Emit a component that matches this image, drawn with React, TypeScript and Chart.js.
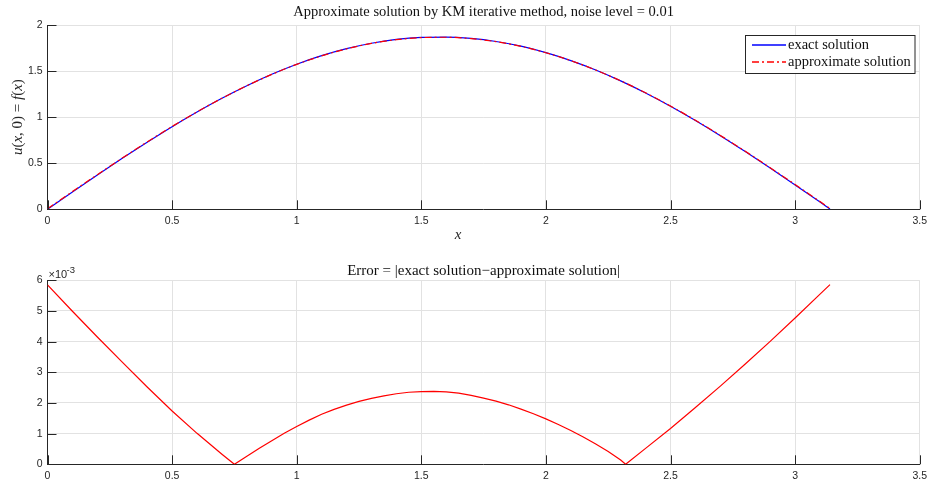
import React, { useEffect, useRef } from "react";
import { Chart, registerables } from "chart.js";

Chart.register(...registerables);

// ---------- data ----------
const xValues = [0, 0.1, 0.2, 0.3, 0.4, 0.5, 0.6, 0.7, 0.8, 0.9, 1.0, 1.1, 1.2, 1.3, 1.4, 1.5, 1.6, 1.7, 1.8, 1.9, 2.0, 2.1, 2.2, 2.3, 2.4, 2.5, 2.6, 2.7, 2.8, 2.9, 3.0, 3.1, 3.14];
const exactValues = [0, 0.187, 0.372, 0.553, 0.728, 0.897, 1.056, 1.205, 1.341, 1.465, 1.574, 1.667, 1.743, 1.802, 1.843, 1.865, 1.869, 1.854, 1.821, 1.770, 1.700, 1.614, 1.512, 1.394, 1.263, 1.119, 0.964, 0.799, 0.626, 0.447, 0.264, 0.078, 0.003];
const approxValues = [0.006, 0.192, 0.376, 0.556, 0.731, 0.899, 1.057, 1.205, 1.341, 1.464, 1.573, 1.665, 1.741, 1.800, 1.841, 1.863, 1.867, 1.852, 1.819, 1.768, 1.699, 1.613, 1.511, 1.394, 1.264, 1.120, 0.966, 0.802, 0.629, 0.451, 0.269, 0.084, 0.009];

const errorX = [0, 0.1, 0.2, 0.3, 0.4, 0.5, 0.6, 0.7, 0.75, 0.8, 0.85, 0.9, 0.95, 1.0, 1.05, 1.1, 1.15, 1.2, 1.25, 1.3, 1.35, 1.4, 1.45, 1.5, 1.55, 1.6, 1.65, 1.7, 1.75, 1.8, 1.85, 1.9, 1.95, 2.0, 2.05, 2.1, 2.15, 2.2, 2.25, 2.3, 2.32, 2.4, 2.5, 2.6, 2.7, 2.8, 2.9, 3.0, 3.1, 3.14];
// error values in units of 1e-3
const errorE3 = [5.85, 4.99, 4.15, 3.33, 2.52, 1.74, 1.01, 0.33, 0, 0.26, 0.52, 0.77, 1.01, 1.23, 1.44, 1.63, 1.79, 1.93, 2.05, 2.15, 2.23, 2.30, 2.35, 2.37, 2.375, 2.36, 2.32, 2.25, 2.16, 2.06, 1.94, 1.80, 1.65, 1.48, 1.30, 1.10, 0.89, 0.66, 0.42, 0.14, 0, 0.52, 1.17, 1.85, 2.55, 3.27, 4.01, 4.77, 5.55, 5.86];

const xTicksStep = 0.5;
const topTitle = "Approximate solution by KM iterative method, noise level = 0.01";
const bottomTitle = "Error = |exact solution\u2212approximate solution|";
const seriesNames = ["exact solution", "approximate solution"];

// ---------- style ----------
const AXIS = "#262626";
const GRID = "#e2e2e2";
const SERIF = "'Liberation Serif', 'Times New Roman', serif";
const SANS = "'Liberation Sans', Arial, sans-serif";
const TICK_FONT = { family: SANS, size: 10.5 };
const DASHDOT = [7, 3, 2, 3];
const TXT = 14.5;

type Part = [string, string];

function drawRich(ctx: CanvasRenderingContext2D, parts: Part[], cx: number, cy: number, rot = 0, color = "#000") {
  ctx.save();
  let total = 0;
  for (const [t, f] of parts) {
    ctx.font = f;
    total += ctx.measureText(t).width;
  }
  ctx.translate(cx, cy);
  ctx.rotate(rot);
  ctx.fillStyle = color;
  ctx.textBaseline = "middle";
  ctx.textAlign = "left";
  let x = -total / 2;
  for (const [t, f] of parts) {
    ctx.font = f;
    ctx.fillText(t, x, 0);
    x += ctx.measureText(t).width;
  }
  ctx.restore();
}

function drawLeft(ctx: CanvasRenderingContext2D, text: string, x: number, y: number, font: string) {
  ctx.save();
  ctx.font = font;
  ctx.fillStyle = "#111";
  ctx.textBaseline = "middle";
  ctx.textAlign = "left";
  ctx.fillText(text, x, y);
  ctx.restore();
}

function inwardTicks(chart: any) {
  const ctx = chart.ctx as CanvasRenderingContext2D;
  const { left, bottom } = chart.chartArea;
  const xs = chart.scales.x;
  const ys = chart.scales.y;
  ctx.save();
  ctx.strokeStyle = AXIS;
  ctx.lineWidth = 1;
  ctx.beginPath();
  for (const t of xs.ticks) {
    const px = Math.round(xs.getPixelForValue(t.value)) + 0.5;
    ctx.moveTo(px, bottom);
    ctx.lineTo(px, bottom - 9);
  }
  for (const t of ys.ticks) {
    const py = Math.round(ys.getPixelForValue(t.value)) + 0.5;
    ctx.moveTo(left, py);
    ctx.lineTo(left + 9, py);
  }
  ctx.stroke();
  ctx.restore();
}

const fmt = (v: any) => String(Math.round(Number(v) * 1000) / 1000);

function baseScales(yMin: number, yMax: number, yStep: number, xHeight: number) {
  return {
    x: {
      type: "linear",
      min: 0,
      max: 3.5,
      ticks: { stepSize: xTicksStep, color: AXIS, font: TICK_FONT, padding: 6, maxRotation: 0, autoSkip: false, callback: fmt },
      grid: { color: GRID, drawTicks: false, lineWidth: 1 },
      border: { color: AXIS, width: 1 },
      afterFit: (s: any) => { s.height = xHeight; },
    },
    y: {
      type: "linear",
      min: yMin,
      max: yMax,
      ticks: { stepSize: yStep, color: AXIS, font: TICK_FONT, padding: 5, callback: fmt },
      grid: { color: GRID, drawTicks: false, lineWidth: 1 },
      border: { color: AXIS, width: 1 },
      afterFit: (s: any) => { s.width = 47.5; },
    },
  };
}

const topDecor = {
  id: "topDecor",
  afterDraw(chart: any) {
    const ctx = chart.ctx as CanvasRenderingContext2D;
    const ca = chart.chartArea;
    inwardTicks(chart);
    const cx = (ca.left + ca.right) / 2;
    drawRich(ctx, [[topTitle, `${TXT}px ${SERIF}`]], cx, 12, 0, "#111");
    const it = `italic 15px ${SERIF}`;
    const rm = `15px ${SERIF}`;
    drawRich(ctx, [["x", it]], 458, 235, 0, AXIS);
    drawRich(
      ctx,
      [["u", it], ["(", rm], ["x", it], [", 0) = ", rm], ["f", it], ["(", rm], ["x", it], [")", rm]],
      18,
      (ca.top + ca.bottom) / 2,
      -Math.PI / 2,
      AXIS
    );
    // legend
    const lx = 745.5, ly = 35.5, lw = 169.5, lh = 38;
    ctx.save();
    ctx.fillStyle = "#fff";
    ctx.fillRect(lx, ly, lw, lh);
    ctx.strokeStyle = AXIS;
    ctx.lineWidth = 1;
    ctx.strokeRect(lx, ly, lw, lh);
    ctx.lineWidth = 1.3;
    ctx.strokeStyle = "#0000ff";
    ctx.beginPath();
    ctx.moveTo(752, 45);
    ctx.lineTo(786, 45);
    ctx.stroke();
    ctx.strokeStyle = "#ff0000";
    ctx.setLineDash(DASHDOT);
    ctx.beginPath();
    ctx.moveTo(752, 62);
    ctx.lineTo(786, 62);
    ctx.stroke();
    ctx.setLineDash([]);
    ctx.restore();
    drawLeft(ctx, seriesNames[0], 788, 45, `${TXT}px ${SERIF}`);
    drawLeft(ctx, seriesNames[1], 788, 62, `${TXT}px ${SERIF}`);
  },
};

const bottomDecor = {
  id: "bottomDecor",
  afterDraw(chart: any) {
    const ctx = chart.ctx as CanvasRenderingContext2D;
    const ca = chart.chartArea;
    inwardTicks(chart);
    const cx = (ca.left + ca.right) / 2;
    drawRich(ctx, [[bottomTitle, `${TXT + 0.5}px ${SERIF}`]], cx, 21, 0, "#111");
    ctx.save();
    ctx.fillStyle = AXIS;
    ctx.textBaseline = "middle";
    ctx.textAlign = "left";
    ctx.font = `11px ${SANS}`;
    ctx.fillText("\u00d710", 48.5, 25);
    ctx.font = `9.5px ${SANS}`;
    ctx.fillText("-3", 66.5, 20.5);
    ctx.restore();
  },
};

function TopChart() {
  const ref = useRef<HTMLCanvasElement | null>(null);
  useEffect(() => {
    const chart = new Chart(ref.current!, {
      type: "line",
      data: {
        datasets: [
          {
            label: seriesNames[0],
            data: xValues.map((x, i) => ({ x, y: exactValues[i] })),
            borderColor: "#0000ff",
            borderWidth: 1.2,
            pointRadius: 0,
            cubicInterpolationMode: "monotone",
            order: 1,
          },
          {
            label: seriesNames[1],
            data: xValues.map((x, i) => ({ x, y: approxValues[i] })),
            borderColor: "#ff0000",
            borderWidth: 1.2,
            borderDash: DASHDOT,
            pointRadius: 0,
            cubicInterpolationMode: "monotone",
            order: 0,
          },
        ],
      },
      options: {
        animation: false,
        responsive: false,
        maintainAspectRatio: false,
        layout: { padding: { top: 25, right: 8.5, left: 0, bottom: 0 } },
        plugins: { legend: { display: false }, tooltip: { enabled: false }, title: { display: false } },
        scales: baseScales(0, 2, 0.5, 40.7) as any,
      },
      plugins: [topDecor],
    } as any);
    return () => chart.destroy();
  }, []);
  return <canvas ref={ref} width={933} height={250} style={{ display: "block", width: 933, height: 250 }} />;
}

function BottomChart() {
  const ref = useRef<HTMLCanvasElement | null>(null);
  useEffect(() => {
    const chart = new Chart(ref.current!, {
      type: "line",
      data: {
        datasets: [
          {
            label: "Error",
            data: errorX.map((x, i) => ({ x, y: errorE3[i] })),
            borderColor: "#ff0000",
            borderWidth: 1.2,
            pointRadius: 0,
            tension: 0,
          },
        ],
      },
      options: {
        animation: false,
        responsive: false,
        maintainAspectRatio: false,
        layout: { padding: { top: 30.3, right: 8.5, left: 0, bottom: 0 } },
        plugins: { legend: { display: false }, tooltip: { enabled: false }, title: { display: false } },
        scales: baseScales(0, 6, 1, 19.7) as any,
      },
      plugins: [bottomDecor],
    } as any);
    return () => chart.destroy();
  }, []);
  return <canvas ref={ref} width={933} height={234} style={{ display: "block", width: 933, height: 234 }} />;
}

export default function App() {
  return (
    <div style={{ position: "fixed", left: 0, top: 0, width: 933, height: 484, background: "#fff" }}>
      <TopChart />
      <BottomChart />
    </div>
  );
}
